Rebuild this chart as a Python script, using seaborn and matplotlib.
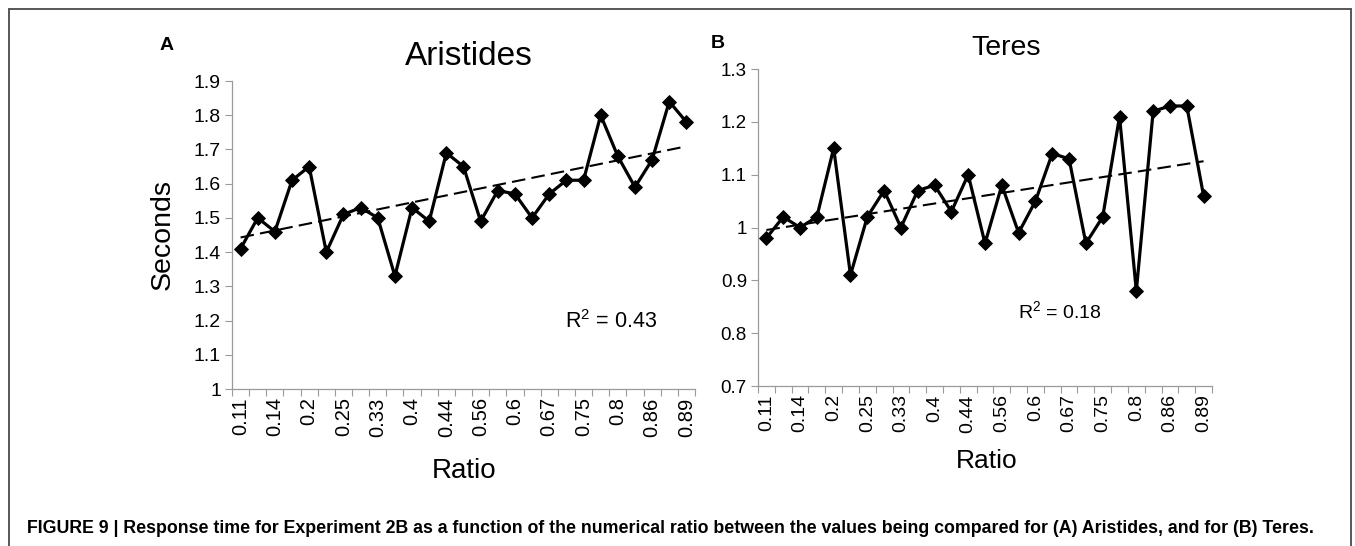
import numpy as np
import pandas as pd
import matplotlib
matplotlib.use("Agg")
import matplotlib.pyplot as plt
from matplotlib.lines import Line2D
import seaborn as sns

# Numerical ratios between the two compared values (x categories)
ratios = ["0.11", "0.13", "0.14", "0.17", "0.2", "0.22", "0.25", "0.29", "0.33",
          "0.38", "0.4", "0.43", "0.44", "0.5", "0.56", "0.57", "0.6", "0.63",
          "0.67", "0.71", "0.75", "0.78", "0.8", "0.83", "0.86", "0.88", "0.89"]

# Mean response time (seconds) per ratio
aristides_rt = [1.41, 1.50, 1.46, 1.61, 1.65, 1.40, 1.51, 1.53, 1.50, 1.33, 1.53,
                1.49, 1.69, 1.65, 1.49, 1.58, 1.57, 1.50, 1.57, 1.61, 1.61, 1.80,
                1.68, 1.59, 1.67, 1.84, 1.78]
teres_rt = [0.98, 1.02, 1.00, 1.02, 1.15, 0.91, 1.02, 1.07, 1.00, 1.07, 1.08,
            1.03, 1.10, 0.97, 1.08, 0.99, 1.05, 1.14, 1.13, 0.97, 1.02, 1.21,
            0.88, 1.22, 1.23, 1.23, 1.06]

aristides_r2 = "0.43"
teres_r2 = "0.18"

aristides_yticks = [1.0, 1.1, 1.2, 1.3, 1.4, 1.5, 1.6, 1.7, 1.8, 1.9]
aristides_ylabels = ["1", "1.1", "1.2", "1.3", "1.4", "1.5", "1.6", "1.7", "1.8", "1.9"]
teres_yticks = [0.7, 0.8, 0.9, 1.0, 1.1, 1.2, 1.3]
teres_ylabels = ["0.7", "0.8", "0.9", "1", "1.1", "1.2", "1.3"]

caption = ("FIGURE 9 | Response time for Experiment 2B as a function of the numerical "
           "ratio between the values being compared for (A) Aristides, and for (B) Teres.")

W, H, DPI = 1355, 546, 100

sns.set_theme(style="white")
plt.rcParams["font.family"] = ["Liberation Sans", "DejaVu Sans"]
plt.rcParams["text.color"] = "black"
plt.rcParams["axes.labelcolor"] = "black"
plt.rcParams["xtick.color"] = "black"
plt.rcParams["ytick.color"] = "black"
plt.rcParams["mathtext.fontset"] = "custom"
plt.rcParams["mathtext.rm"] = "Liberation Sans"
plt.rcParams["mathtext.it"] = "Liberation Sans:italic"
plt.rcParams["mathtext.bf"] = "Liberation Sans:bold"

fig = plt.figure(figsize=(W / DPI, H / DPI), dpi=DPI)
fig.patch.set_facecolor("white")


def fx(x):
    return x / W


def fy(y):
    return 1 - y / H


def box(x0, y0, x1, y1):
    return [fx(x0), fy(y1), (x1 - x0) / W, (y1 - y0) / H]


AXIS_GREY = "#9a9a9a"


def draw_panel(ax, values, yticks, ylabels, tick_fs):
    df = pd.DataFrame({"Ratio": ratios, "Seconds": values})
    sns.pointplot(data=df, x="Ratio", y="Seconds", order=ratios, color="black",
                  markers="D", markersize=7, markeredgewidth=0.6, linewidth=2.3,
                  errorbar=None, ax=ax, zorder=3)

    # Linear trend line fitted over the category positions
    idx = np.arange(len(ratios))
    slope, intercept = np.polyfit(idx, values, 1)
    ax.plot(idx, slope * idx + intercept, color="black", lw=1.5,
            dashes=(6.5, 3), zorder=2)

    ax.set_xlim(-0.5, len(ratios) - 0.5)
    ax.set_ylim(yticks[0], yticks[-1])
    ax.set_xlabel("")
    ax.set_ylabel("")

    # Tick marks at category boundaries, labels on every other category
    ax.set_xticks(np.arange(-0.5, len(ratios)), labels=[])
    ax.set_xticks(idx[::2], labels=[ratios[i] for i in idx[::2]], minor=True)
    ax.tick_params(axis="x", which="major", length=5, width=0.8,
                   color=AXIS_GREY, direction="out", bottom=True)
    ax.tick_params(axis="x", which="minor", length=0, labelrotation=90,
                   labelsize=tick_fs + 0.5, pad=6, labelcolor="black", bottom=True)

    ax.set_yticks(yticks, labels=ylabels)
    ax.tick_params(axis="y", which="major", length=5, width=0.8, color=AXIS_GREY,
                   direction="out", labelsize=tick_fs, pad=3, left=True,
                   labelcolor="black")

    sns.despine(ax=ax)
    for side in ("left", "bottom"):
        ax.spines[side].set_color(AXIS_GREY)
        ax.spines[side].set_linewidth(0.9)
    ax.grid(False)
    ax.patch.set_alpha(0)


# Panel A: Aristides
ax_a = fig.add_axes(box(232, 81, 695, 389))
draw_panel(ax_a, aristides_rt, aristides_yticks, aristides_ylabels, 14)

# Panel B: Teres
ax_b = fig.add_axes(box(758, 69, 1212, 386))
draw_panel(ax_b, teres_rt, teres_yticks, teres_ylabels, 13.5)

# Panel letters and titles
fig.text(fx(167), fy(50), "A", ha="center", va="baseline", fontsize=14, fontweight="bold")
fig.text(fx(718), fy(48), "B", ha="center", va="baseline", fontsize=14, fontweight="bold")
fig.text(fx(469), fy(65), "Aristides", ha="center", va="baseline", fontsize=24)
fig.text(fx(1006), fy(55), "Teres", ha="center", va="baseline", fontsize=20.5)

# Axis labels
fig.text(fx(163), fy(235), "Seconds", ha="center", va="center", rotation=90, fontsize=20.5)
fig.text(fx(464), fy(478), "Ratio", ha="center", va="baseline", fontsize=20)
fig.text(fx(987), fy(468), "Ratio", ha="center", va="baseline", fontsize=19)

# Goodness-of-fit annotations
fig.text(fx(611), fy(328), r"R$^{2}$ = " + aristides_r2, ha="center", va="baseline", fontsize=15.5)
fig.text(fx(1060), fy(318), r"R$^{2}$ = " + teres_r2, ha="center", va="baseline", fontsize=14)

# Caption, sized to span the frame width
cap = fig.text(fx(27), fy(533), caption, ha="left", va="baseline", fontsize=13,
               fontweight="bold", family=["Liberation Sans", "DejaVu Sans"])
renderer = fig.canvas.get_renderer()
cap_w = cap.get_window_extent(renderer).width
cap.set_fontsize(13 * (1278 / cap_w))

# Surrounding frame
frame_kw = dict(transform=fig.transFigure, color="#4a4a4a", lw=1.3)
fig.add_artist(Line2D([fx(9), fx(9)], [fy(9), 0], **frame_kw))
fig.add_artist(Line2D([fx(9), fx(1351)], [fy(9), fy(9)], **frame_kw))
fig.add_artist(Line2D([fx(1351), fx(1351)], [fy(9), 0], **frame_kw))

fig.savefig("out.png", dpi=DPI, facecolor="white")
